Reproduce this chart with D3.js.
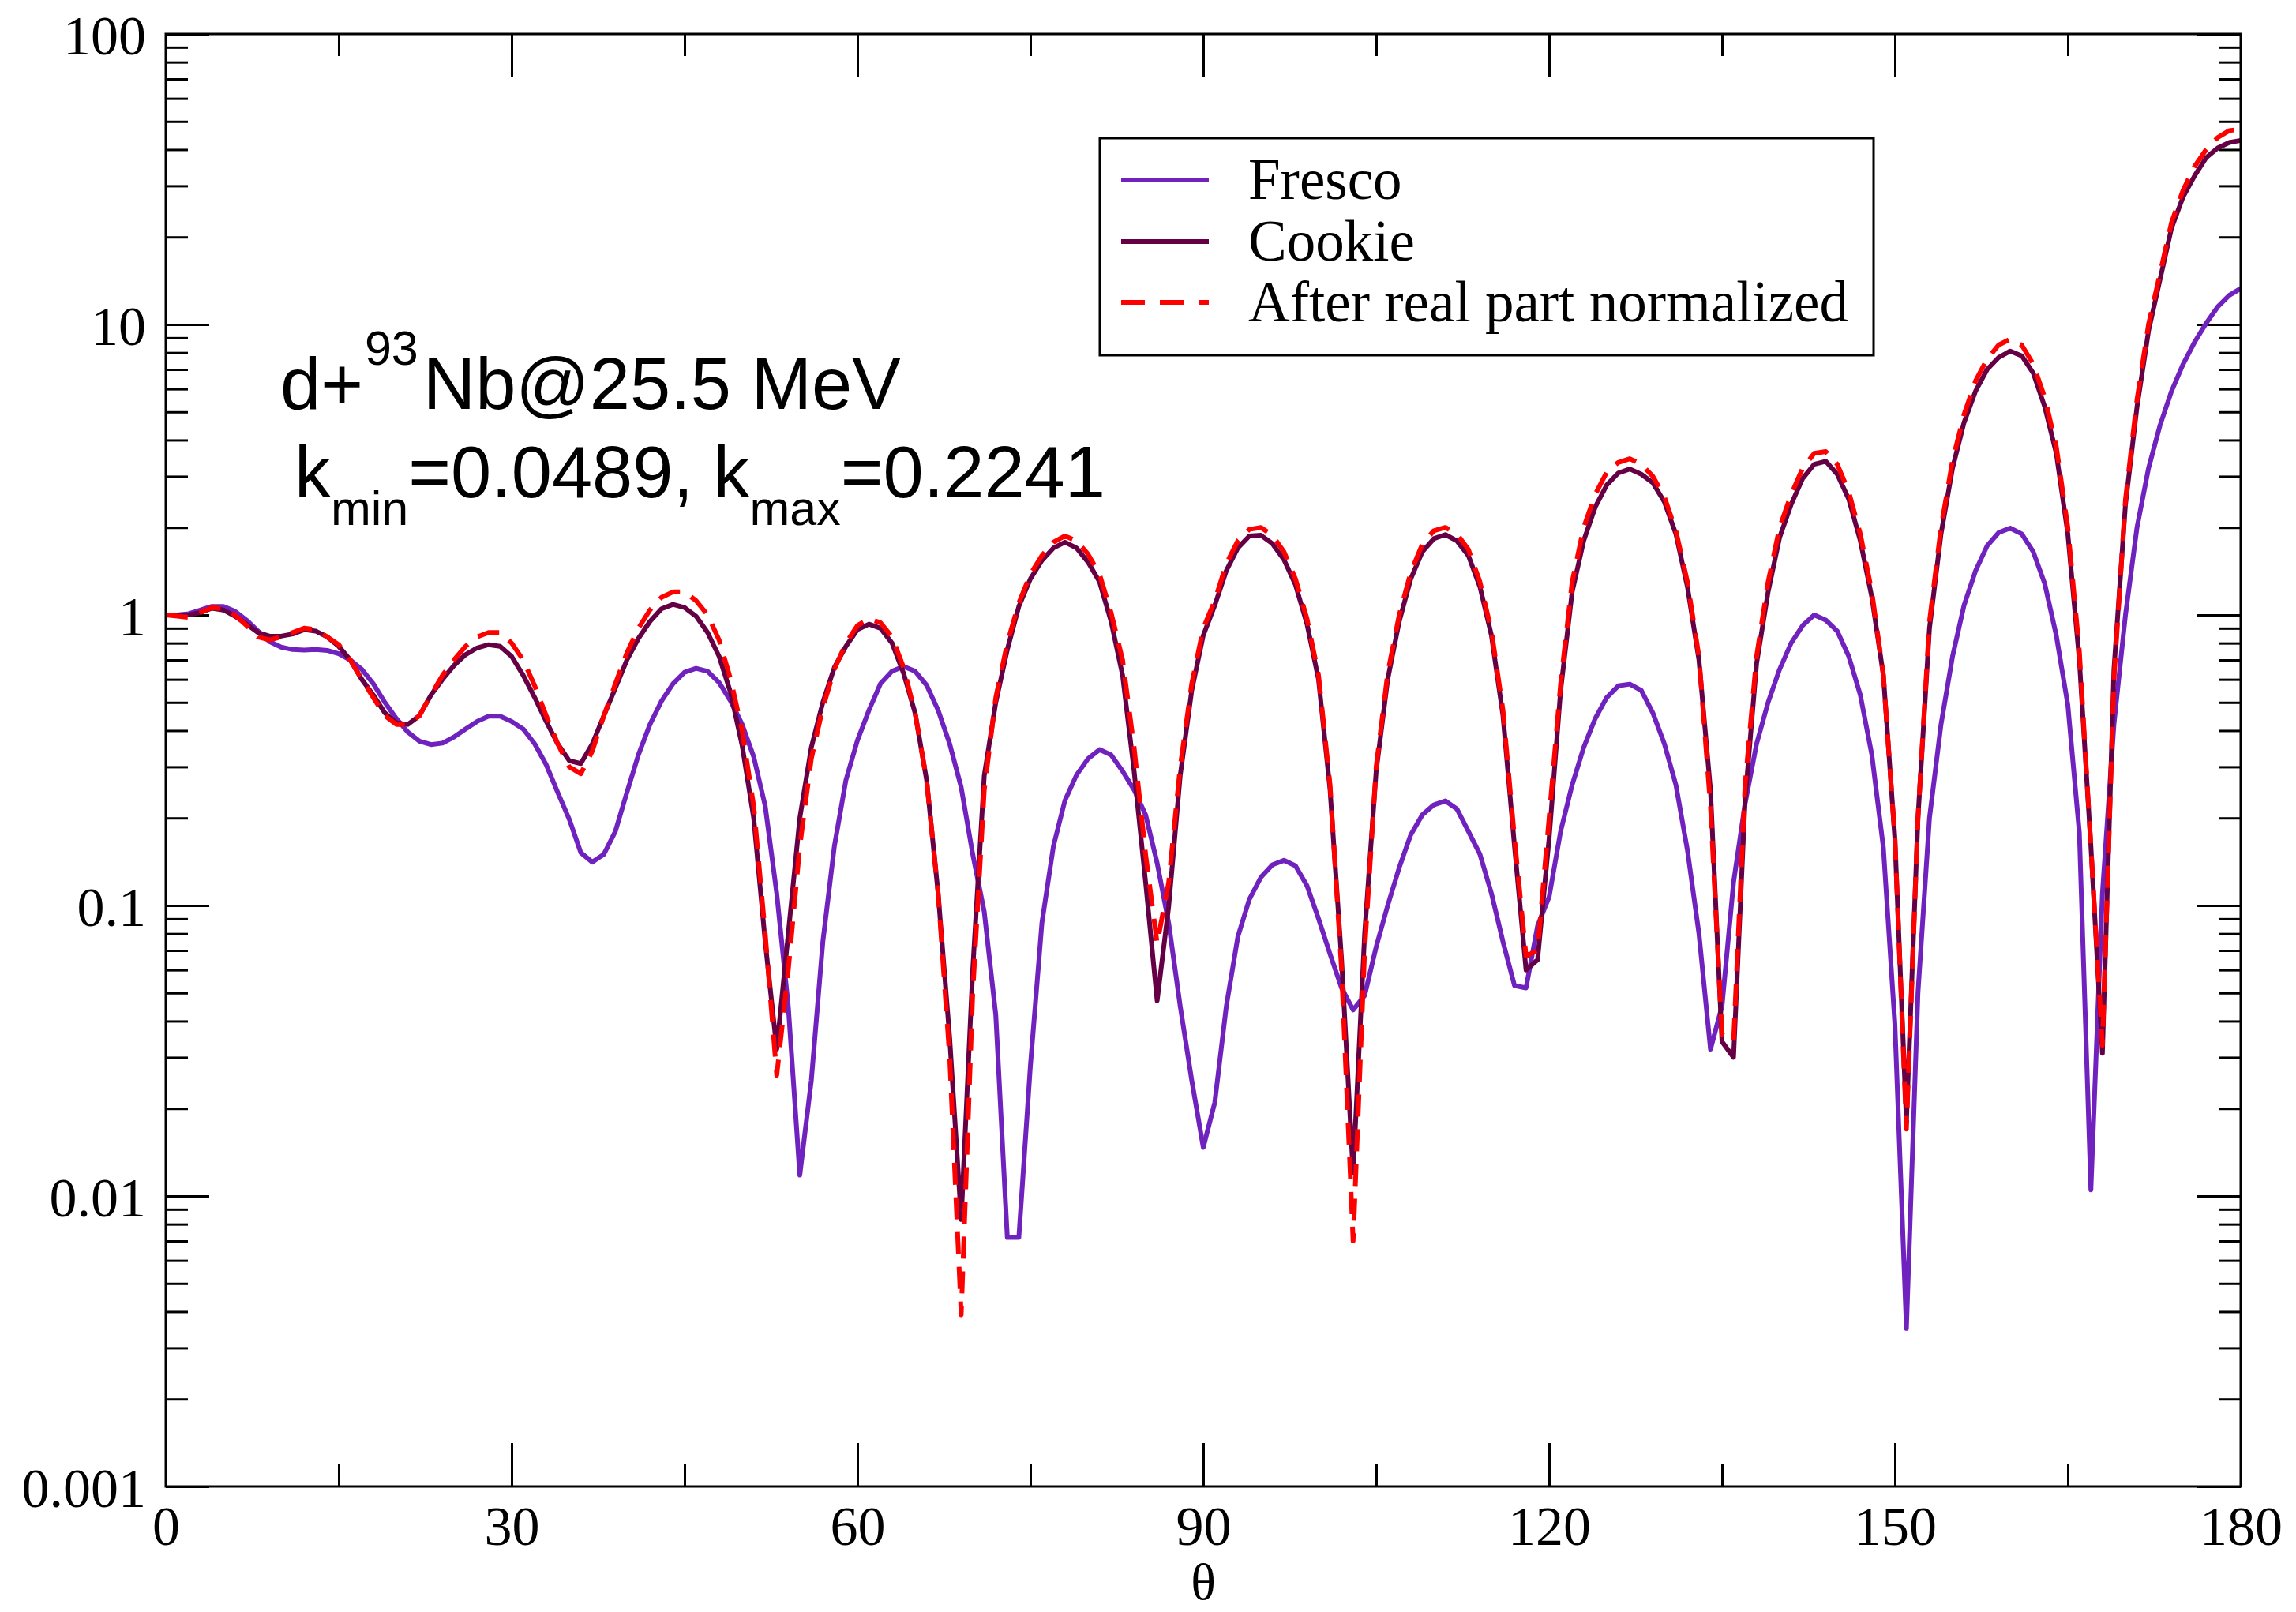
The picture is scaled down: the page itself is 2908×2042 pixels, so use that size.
<!DOCTYPE html>
<html><head><meta charset="utf-8">
<script src="https://cdn.jsdelivr.net/npm/d3@7"></script>
<style>body{margin:0;background:#fff}svg{display:block}</style>
</head><body>
<svg id="chart" width="2908" height="2042"></svg>
<script>
// ---------- data ----------
const thetaDeg = [0,1,2,3,4,5,6,7,8,9,10,11,12,13,14,15,16,17,18,19,20,21,22,23,24,25,26,27,28,29,30,
31,32,33,34,35,36,37,38,39,40,41,42,43,44,45,46,47,48,49,50,51,52,53,54,55,56,57,58,59,60,
61,62,63,64,65,66,67,68,69,70,71,72,73,74,75,76,77,78,79,80,81,82,83,84,85,86,87,88,89,90,
91,92,93,94,95,96,97,98,99,100,101,102,103,104,105,106,107,108,109,110,111,112,113,114,115,116,117,118,119,120,
121,122,123,124,125,126,127,128,129,130,131,132,133,134,135,136,137,138,139,140,141,142,143,144,145,146,147,148,149,150,
151,152,153,154,155,156,157,158,159,160,161,162,163,164,165,166,167,168,169,170,171,172,173,174,175,176,177,178,179,180];

const fresco = [1.0,1.0,1.01,1.04,1.07,1.07,1.03,0.96,0.88,0.81,0.775,
0.76,0.757,0.76,0.755,0.735,0.70,0.65,0.58,0.50,0.44,
0.395,0.368,0.358,0.362,0.38,0.405,0.43,0.448,0.448,0.43,
0.405,0.36,0.305,0.245,0.198,0.152,0.141,0.15,0.18,0.245,
0.33,0.42,0.505,0.58,0.635,0.655,0.64,0.585,0.505,0.42,
0.325,0.22,0.11,0.045,0.0118,0.025,0.075,0.16,0.27,0.37,
0.47,0.58,0.64,0.665,0.64,0.573,0.47,0.36,0.255,0.15,
0.095,0.042,0.0072,0.0072,0.028,0.087,0.16,0.23,0.281,0.32,
0.344,0.33,0.29,0.25,0.205,0.14,0.087,0.045,0.025,0.0147,
0.021,0.045,0.078,0.105,0.125,0.138,0.143,0.137,0.117,0.09,
0.068,0.052,0.0437,0.049,0.072,0.1,0.135,0.175,0.205,0.222,
0.229,0.215,0.18,0.15,0.11,0.075,0.053,0.052,0.085,0.107,
0.18,0.26,0.35,0.44,0.52,0.57,0.578,0.55,0.46,0.36,
0.26,0.155,0.08,0.032,0.045,0.12,0.224,0.36,0.5,0.65,
0.8,0.92,1.0,0.96,0.88,0.72,0.53,0.33,0.158,0.039,
0.0035,0.05,0.2,0.42,0.72,1.08,1.42,1.73,1.92,1.99,
1.9,1.65,1.28,0.85,0.49,0.178,0.0105,0.11,0.42,1.0,
2.0,3.2,4.5,5.9,7.3,8.7,10.1,11.5,12.6,13.3];

const cookie = [1.0,1.0,1.0,1.02,1.055,1.04,0.99,0.93,0.87,0.845,0.845,
0.86,0.89,0.88,0.84,0.78,0.70,0.60,0.53,0.46,0.425,
0.42,0.45,0.53,0.60,0.67,0.73,0.77,0.79,0.78,0.72,
0.62,0.52,0.43,0.36,0.315,0.308,0.36,0.45,0.56,0.70,
0.83,0.95,1.05,1.087,1.06,0.99,0.87,0.72,0.54,0.355,
0.20,0.075,0.032,0.08,0.20,0.35,0.50,0.66,0.78,0.89,
0.93,0.90,0.80,0.63,0.46,0.27,0.11,0.035,0.0083,0.06,
0.28,0.50,0.76,1.07,1.33,1.54,1.70,1.78,1.70,1.52,
1.30,0.95,0.62,0.29,0.12,0.047,0.099,0.28,0.55,0.85,
1.08,1.42,1.70,1.87,1.88,1.76,1.55,1.27,0.93,0.60,
0.25,0.065,0.012,0.08,0.29,0.60,0.95,1.33,1.65,1.83,
1.89,1.80,1.60,1.25,0.85,0.45,0.16,0.06,0.065,0.17,
0.55,1.2,1.8,2.35,2.8,3.08,3.18,3.05,2.85,2.45,
1.9,1.25,0.7,0.25,0.034,0.03,0.23,0.68,1.2,1.85,
2.4,2.95,3.3,3.38,3.05,2.5,1.8,1.15,0.62,0.17,
0.018,0.2,0.9,1.9,3.2,4.6,5.9,7.0,7.7,8.1,
7.8,6.8,5.2,3.6,1.9,0.7,0.16,0.031,0.65,2.4,
5.2,9.5,14.3,21.5,27.5,32.5,37.5,40.5,42.3,43];

const normalized = [1.0,0.99,0.98,1.02,1.06,1.05,1.0,0.92,0.84,0.82,0.84,
0.87,0.9,0.89,0.84,0.79,0.70,0.60,0.52,0.45,0.42,
0.42,0.45,0.53,0.62,0.70,0.78,0.84,0.87,0.87,0.80,
0.70,0.57,0.45,0.36,0.30,0.284,0.34,0.45,0.58,0.74,
0.90,1.04,1.15,1.2,1.2,1.12,1.0,0.82,0.60,0.40,
0.22,0.08,0.026,0.06,0.16,0.32,0.48,0.65,0.80,0.92,
0.97,0.94,0.84,0.66,0.46,0.27,0.11,0.03,0.0039,0.05,
0.25,0.52,0.80,1.10,1.38,1.60,1.78,1.87,1.80,1.62,
1.38,1.02,0.70,0.35,0.15,0.074,0.12,0.30,0.58,0.90,
1.12,1.50,1.80,1.97,2.0,1.88,1.65,1.33,0.97,0.62,
0.26,0.06,0.007,0.07,0.30,0.63,1.0,1.4,1.75,1.95,
2.0,1.9,1.68,1.3,0.88,0.47,0.17,0.067,0.07,0.2,
0.58,1.3,2.0,2.6,3.1,3.35,3.45,3.3,3.0,2.55,
1.95,1.3,0.72,0.22,0.036,0.034,0.26,0.72,1.3,2.0,
2.6,3.2,3.6,3.65,3.3,2.65,1.9,1.2,0.62,0.17,
0.017,0.2,0.95,2.0,3.4,4.9,6.4,7.6,8.5,8.9,
8.5,7.3,5.6,3.8,2.0,0.75,0.16,0.033,0.6,2.5,
5.5,10,15,22.5,29,35,40,44,46.5,47];

const xMajorTicks = [0,30,60,90,120,150,180];
const xMinorTicks = [15,45,75,105,135,165];
const yMajorTicks = [0.001,0.01,0.1,1,10,100];
const yTickLabels = ["0.001","0.01","0.1","1","10","100"];
const yMinorTicks = [];
[0.001,0.01,0.1,1,10].forEach(d => [2,3,4,5,6,7,8,9].forEach(m => yMinorTicks.push(+(d*m).toPrecision(3))));

const seriesNames = ["Fresco","Cookie","After real part normalized"];
const seriesColors = ["#7022be","#660044","#ff0000"];

// ---------- layout ----------
const svg = d3.select("#chart");
const L = 210, R = 2838, T = 43, B = 1883;
const x = d3.scaleLinear().domain([0,180]).range([L,R]);
const y = d3.scaleLog().domain([0.001,100]).range([B,T]);
const serif = "'Liberation Serif','Times New Roman',serif";
const sans = "'Liberation Sans',Arial,Helvetica,sans-serif";

function styleAxis(g){
  g.select(".domain").remove();
  g.selectAll(".tick line").attr("stroke","#000").attr("stroke-width",3);
  g.selectAll("text").attr("font-family",serif).attr("font-size",70).attr("fill","#000");
}

// bottom
svg.append("g").attr("transform",`translate(0,${B})`)
  .call(d3.axisBottom(x).tickValues(xMajorTicks).tickSize(-55).tickSizeOuter(0).tickPadding(24).tickFormat(d3.format("d")))
  .call(styleAxis);
svg.append("g").attr("transform",`translate(0,${B})`)
  .call(d3.axisBottom(x).tickValues(xMinorTicks).tickSize(-28).tickSizeOuter(0).tickFormat(""))
  .call(styleAxis);
// top
svg.append("g").attr("transform",`translate(0,${T})`)
  .call(d3.axisTop(x).tickValues(xMajorTicks).tickSize(-55).tickSizeOuter(0).tickFormat(""))
  .call(styleAxis);
svg.append("g").attr("transform",`translate(0,${T})`)
  .call(d3.axisTop(x).tickValues(xMinorTicks).tickSize(-28).tickSizeOuter(0).tickFormat(""))
  .call(styleAxis);
// left
svg.append("g").attr("transform",`translate(${L},0)`)
  .call(d3.axisLeft(y).tickValues(yMajorTicks).tickSize(-55).tickSizeOuter(0).tickPadding(25)
        .tickFormat((d,i) => yTickLabels[i]))
  .call(styleAxis)
  .call(g => g.selectAll("text").attr("dy","0.36em"));
svg.append("g").attr("transform",`translate(${L},0)`)
  .call(d3.axisLeft(y).tickValues(yMinorTicks).tickSize(-28).tickSizeOuter(0).tickFormat(""))
  .call(styleAxis);
// right
svg.append("g").attr("transform",`translate(${R},0)`)
  .call(d3.axisRight(y).tickValues(yMajorTicks).tickSize(-55).tickSizeOuter(0).tickFormat(""))
  .call(styleAxis);
svg.append("g").attr("transform",`translate(${R},0)`)
  .call(d3.axisRight(y).tickValues(yMinorTicks).tickSize(-28).tickSizeOuter(0).tickFormat(""))
  .call(styleAxis);

// ---------- curves ----------
const line = d3.line().x(d => x(d[0])).y(d => y(d[1])).curve(d3.curveLinear);
const series = [fresco, cookie, normalized].map(vals => thetaDeg.map((t,i) => [t, vals[i]]));
const plot = svg.append("g");
series.forEach((s,i) => {
  plot.append("path").datum(s)
    .attr("d", line)
    .attr("fill","none")
    .attr("stroke", seriesColors[i])
    .attr("stroke-width", 6)
    .attr("stroke-linejoin","round")
    .attr("stroke-dasharray", i === 2 ? "28,16" : null);
});

// frame
svg.append("rect").attr("x",L).attr("y",T).attr("width",R-L).attr("height",B-T)
  .attr("fill","none").attr("stroke","#000").attr("stroke-width",3);

// x label
svg.append("text").attr("x",(L+R)/2).attr("y",2026).attr("text-anchor","middle")
  .attr("font-family",serif).attr("font-size",66).text("θ");

// ---------- legend ----------
const leg = svg.append("g");
leg.append("rect").attr("x",1393).attr("y",175).attr("width",980).attr("height",275)
  .attr("fill","#fff").attr("stroke","#000").attr("stroke-width",3);
const legBase = [252,330,407];
seriesNames.forEach((n,i) => {
  leg.append("line").attr("x1",1420).attr("x2",1531)
    .attr("y1",legBase[i]-24).attr("y2",legBase[i]-24)
    .attr("stroke",seriesColors[i]).attr("stroke-width",6)
    .attr("stroke-dasharray", i === 2 ? "30,19" : null);
  leg.append("text").attr("x",1581).attr("y",legBase[i])
    .attr("font-family",serif).attr("font-size",73).text(n);
});

// ---------- annotation ----------
const a1 = svg.append("text").attr("x",355).attr("y",518)
  .attr("font-family",sans).attr("font-size",92).attr("fill","#000");
a1.append("tspan").text("d+");
a1.append("tspan").attr("font-size",61).attr("dy",-56).attr("dx",2).text("93");
a1.append("tspan").attr("dy",56).attr("dx",6).text("Nb@25.5 MeV");

const a2 = svg.append("text").attr("x",373).attr("y",630)
  .attr("font-family",sans).attr("font-size",92).attr("fill","#000");
a2.append("tspan").text("k");
a2.append("tspan").attr("font-size",61).attr("dy",35).text("min");
a2.append("tspan").attr("dy",-35).text("=0.0489, k");
a2.append("tspan").attr("font-size",61).attr("dy",35).text("max");
a2.append("tspan").attr("dy",-35).text("=0.2241");
</script>
</body></html>
